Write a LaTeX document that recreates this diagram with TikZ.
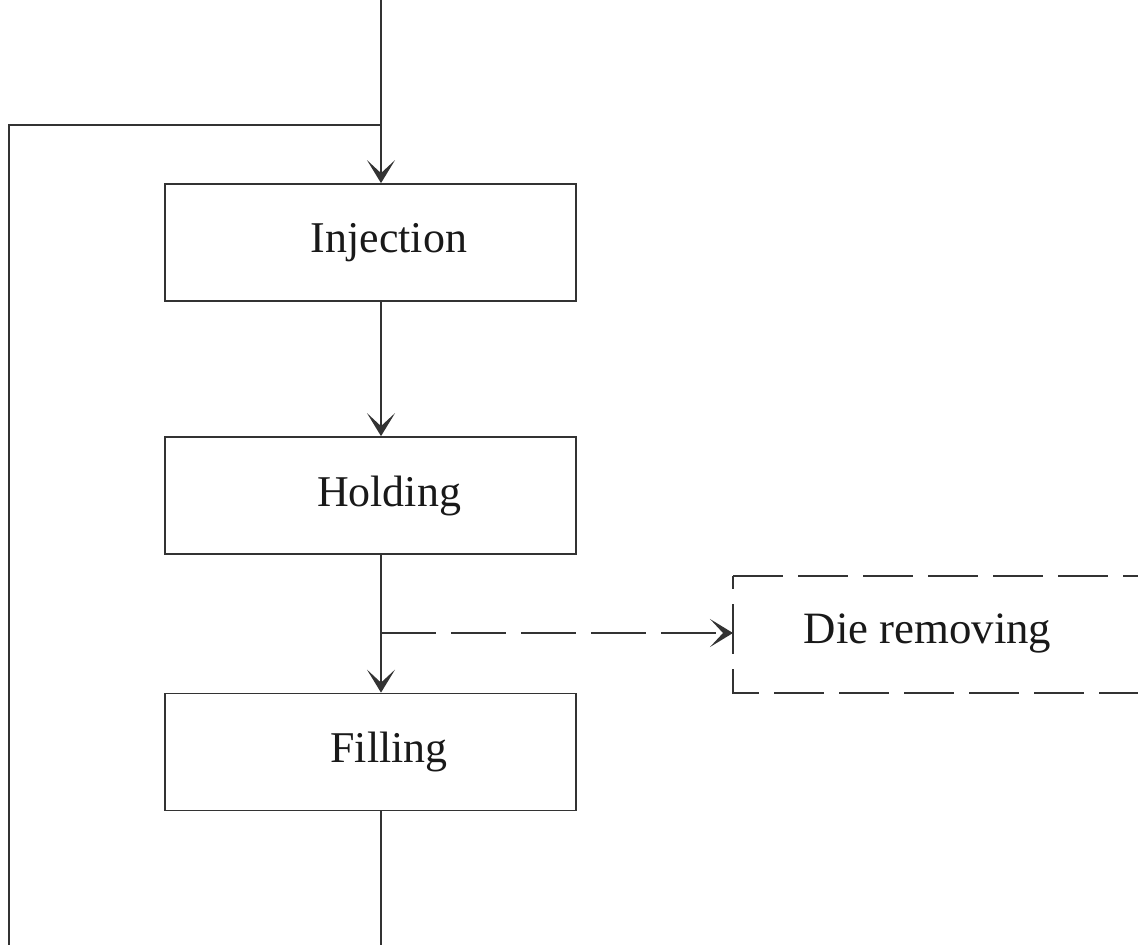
\documentclass[tikz,border=0pt]{standalone}
\usepackage{fontspec}
\setmainfont{Liberation Serif}
\usetikzlibrary{arrows.meta}
\begin{document}
\begin{tikzpicture}[
line width=1pt,
color=black!80,
stage/.style={draw, minimum width=8.22cm, minimum height=2.34cm, inner sep=0pt},
stagetext/.style={font=\fontsize{25}{30}\selectfont, text=black!90, xshift=0.37cm},
loose/.style={minimum width=9cm, minimum height=2.3cm, anchor=west},
flow/.style={-{Stealth[length=0.46cm, width=0.56cm, inset=0.26cm]}},
dashflow/.style={flow, dash pattern=on 1.1cm off 0.3cm}]
\useasboundingbox (0,0) rectangle (22.76,-18.9);
\clip (0,0) rectangle (22.76,-18.9);
% stages
\node[stage, label={[stagetext]center:Injection}] (inj) at (7.41,-4.85) {};
\node[stage, label={[stagetext]center:Holding}] (hol) at (7.41,-9.91) {};
\node[stage, label={[stagetext]center:Filling}] (fil) at (7.41,-15.04) {};
\node[loose] (die) at (14.66,-12.69) {};
\node[font=\fontsize{25.5}{30}\selectfont, text=black!90] (dietext) at (18.55,-12.66) {Die removing};
% dashed outline, open on the right
\draw[dash pattern=on 1cm off 0.3cm] (die.north west) -- (die.north east);
\draw[dash pattern=on 1cm off 0.3cm, dash phase=0.74cm] (die.north west) -- (die.south west) -- (die.south east);
% free ends of the lines
\coordinate (top) at (7.62,0);
\coordinate (loopin) at (7.62,-2.5);
\coordinate (loopleft) at (0.18,-2.5);
\coordinate (loopend) at (0.18,-18.9);
\coordinate (bottom) at (7.62,-18.9);
\coordinate (branch) at (7.62,-12.66);
% connectors
\draw[flow] (top) -- (top |- inj.north);
\draw (loopin) -- (loopleft) -- (loopend);
\draw[flow] (inj.south -| top) -- (hol.north -| top);
\draw[flow] (hol.south -| top) -- (fil.north -| top);
\draw (fil.south -| top) -- (bottom);
\draw[dashflow] (branch) -- (die.west |- branch);
\end{tikzpicture}
\end{document}
